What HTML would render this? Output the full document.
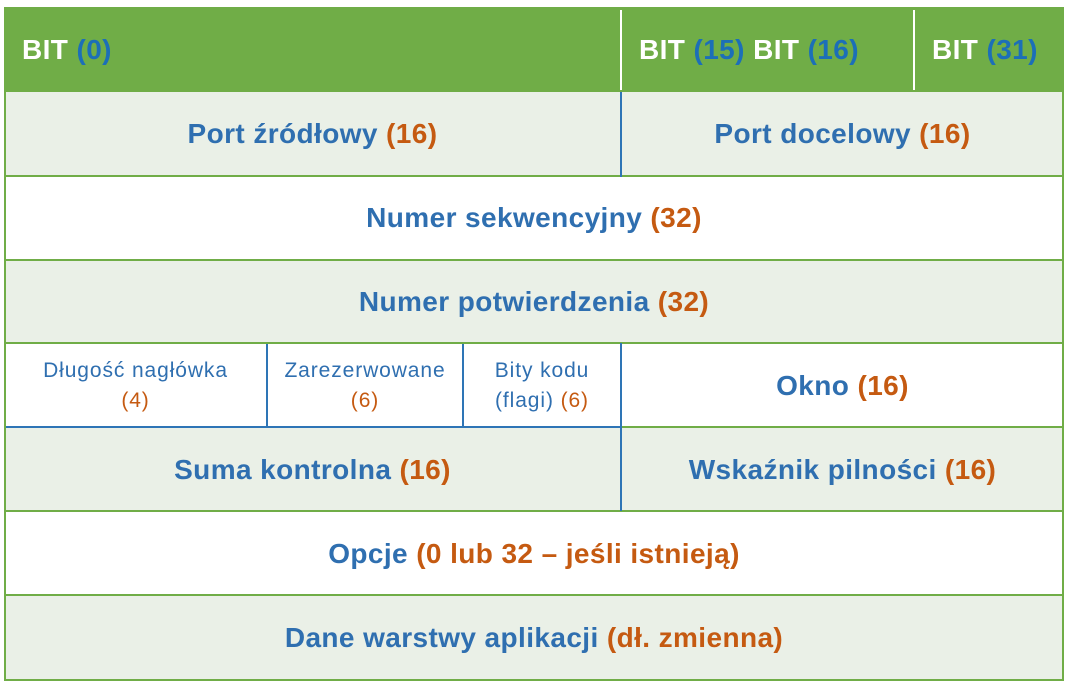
<!DOCTYPE html>
<html><head><meta charset="utf-8"><style>
body{margin:0;width:1068px;height:690px;background:#fff;position:relative;font-family:"Liberation Sans",sans-serif;overflow:hidden}
.a{position:absolute;box-sizing:border-box}
.c{display:flex;align-items:center;justify-content:center;text-align:center;font-weight:bold;font-size:28px;letter-spacing:0.4px;color:#2f6fb0}
.o{color:#c55a11}
.h{color:#fff;font-weight:bold;font-size:28px;letter-spacing:0.4px;display:flex;align-items:center}
.b{color:#1c6fb8}
.s{font-weight:normal;font-size:21px;letter-spacing:0.9px;line-height:30px}
</style></head><body>
<div class="a" style="left:4px;top:7px;width:1060px;height:674px;border:2px solid #70ad47;background:#fff"></div>
<div class="a" style="left:6px;top:9px;width:1056px;height:83px;background:#70ad47"></div>
<div class="a" style="left:6px;top:92px;width:1056px;height:84px;background:#eaf0e7"></div>
<div class="a" style="left:6px;top:260px;width:1056px;height:83px;background:#eaf0e7"></div>
<div class="a" style="left:6px;top:427px;width:1056px;height:84px;background:#eaf0e7"></div>
<div class="a" style="left:6px;top:595px;width:1056px;height:84px;background:#eaf0e7"></div>
<!-- horizontal lines -->
<div class="a" style="left:5px;top:175px;width:1058px;height:2px;background:#70ad47"></div>
<div class="a" style="left:5px;top:259px;width:1058px;height:2px;background:#70ad47"></div>
<div class="a" style="left:5px;top:342px;width:1058px;height:2px;background:#70ad47"></div>
<div class="a" style="left:6px;top:426px;width:616px;height:2px;background:#2e75b6"></div>
<div class="a" style="left:622px;top:426px;width:441px;height:2px;background:#70ad47"></div>
<div class="a" style="left:5px;top:510px;width:1058px;height:2px;background:#70ad47"></div>
<div class="a" style="left:5px;top:594px;width:1058px;height:2px;background:#70ad47"></div>
<!-- vertical lines -->
<div class="a" style="left:620px;top:10px;width:2px;height:80px;background:#fff"></div>
<div class="a" style="left:913px;top:10px;width:2px;height:80px;background:#fff"></div>
<div class="a" style="left:620px;top:92px;width:2px;height:85px;background:#2e75b6"></div>
<div class="a" style="left:620px;top:343px;width:2px;height:168px;background:#2e75b6"></div>
<div class="a" style="left:266px;top:344px;width:2px;height:83px;background:#2e75b6"></div>
<div class="a" style="left:462px;top:344px;width:2px;height:83px;background:#2e75b6"></div>
<!-- header text -->
<div class="a h" style="left:22px;top:8px;height:84px">BIT&nbsp;<span class="b">(0)</span></div>
<div class="a h" style="left:639px;top:8px;height:84px">BIT&nbsp;<span class="b">(15)</span>&nbsp;BIT&nbsp;<span class="b">(16)</span></div>
<div class="a h" style="left:932px;top:8px;height:84px">BIT&nbsp;<span class="b">(31)</span></div>
<!-- cells -->
<div class="a c" style="left:5px;top:92px;width:615px;height:84px">Port źródłowy&nbsp;<span class="o">(16)</span></div>
<div class="a c" style="left:622px;top:92px;width:441px;height:84px">Port docelowy&nbsp;<span class="o">(16)</span></div>
<div class="a c" style="left:5px;top:176px;width:1058px;height:84px">Numer sekwencyjny&nbsp;<span class="o">(32)</span></div>
<div class="a c" style="left:5px;top:260px;width:1058px;height:83px">Numer potwierdzenia&nbsp;<span class="o">(32)</span></div>
<div class="a c s" style="left:5px;top:344px;width:261px;height:83px"><div>Długość nagłówka<br><span class="o">(4)</span></div></div>
<div class="a c s" style="left:268px;top:344px;width:194px;height:83px"><div>Zarezerwowane<br><span class="o">(6)</span></div></div>
<div class="a c s" style="left:464px;top:344px;width:156px;height:83px"><div>Bity kodu<br>(flagi) <span class="o">(6)</span></div></div>
<div class="a c" style="left:622px;top:344px;width:441px;height:83px">Okno&nbsp;<span class="o">(16)</span></div>
<div class="a c" style="left:5px;top:428px;width:615px;height:83px">Suma kontrolna&nbsp;<span class="o">(16)</span></div>
<div class="a c" style="left:622px;top:428px;width:441px;height:83px">Wskaźnik pilności&nbsp;<span class="o">(16)</span></div>
<div class="a c" style="left:5px;top:512px;width:1058px;height:83px">Opcje&nbsp;<span class="o">(0 lub 32 – jeśli istnieją)</span></div>
<div class="a c" style="left:5px;top:596px;width:1058px;height:84px">Dane warstwy aplikacji&nbsp;<span class="o">(dł. zmienna)</span></div>
</body></html>
